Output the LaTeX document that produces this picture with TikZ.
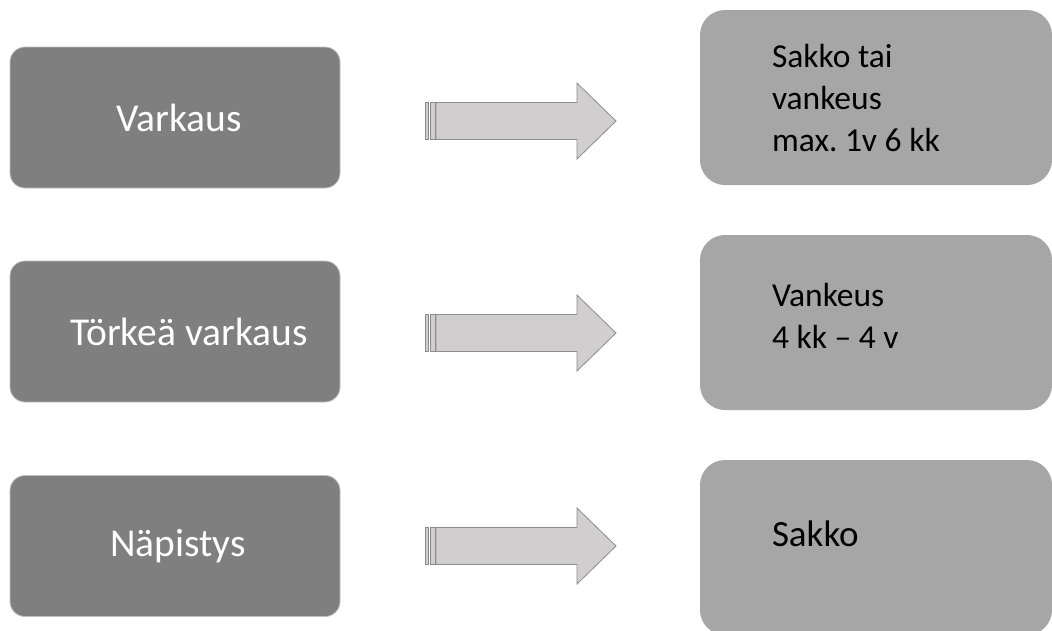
\documentclass[tikz,border=0pt]{standalone}
\usepackage{fontspec}
\setmainfont{Carlito}
\usetikzlibrary{positioning}
\definecolor{crimegray}{HTML}{7F7F7F}
\definecolor{crimeedge}{HTML}{BFBFBF}
\definecolor{penaltygray}{HTML}{A6A6A6}
\definecolor{arrowfill}{HTML}{D0CECE}
\definecolor{arrowedge}{HTML}{8C8C8C}
\frenchspacing
\tikzset{
    crime-box/.style = {draw=crimeedge, fill=crimegray, line width=0.8pt, rectangle, rounded corners=15pt, minimum width=330pt, minimum height=141pt, text=white, font=\fontsize{39.5}{46}\selectfont},
    penalty-box/.style = {fill=penaltygray, rectangle, rounded corners=25pt, minimum width=352pt, minimum height=175pt},
    penalty-text/.style = {align=left, inner sep=0pt, font=\fontsize{33.5}{42}\selectfont},
    block-arrow/.style = {draw=arrowedge, fill=arrowfill, line width=0.8pt, line join=miter},
}

\begin{document}
\begin{tikzpicture}[x=1pt, y=-1pt]
\useasboundingbox (0,0) rectangle (1052,630);
% left column
\node[crime-box] (varkaus) at (175,117.5) {\hspace{8pt}Varkaus};
\node[crime-box] (torkea) at (175,331.5) {\hspace{28pt}Törkeä varkaus};
\node[crime-box] (napistys) at (175,546) {\hspace{6pt}Näpistys};
% right column
\node[penalty-box] (sakkotai) at (876,97.5) {};
\node[penalty-box] (vankeus) at (876,322.5) {};
\node[penalty-box] (sakko) at (876,547.5) {};
\node[penalty-text, right=72pt of sakkotai.west, anchor=west] (sakkotai-text) {Sakko tai\\vankeus\\max. 1v 6 kk};
\node[penalty-text, right=72pt of vankeus.west, anchor=west, yshift=7pt] (vankeus-text) {Vankeus\\4 kk -- 4 v};
\node[penalty-text, right=72pt of sakko.west, anchor=west, yshift=14pt, font=\fontsize{37}{44}\selectfont] (sakko-text) {Sakko};
% striped arrows
\foreach \y in {121,333,546}{
    \begin{scope}[shift={(425,\y)}]
        \draw[block-arrow] (0,-18.5) rectangle (3.3,18.5);
        \draw[block-arrow] (5,-18.5) rectangle (10,18.5);
        \draw[block-arrow] (11,-18.5) -- (152,-18.5) -- (152,-38) -- (191,0) -- (152,38) -- (152,18.5) -- (11,18.5) -- cycle;
    \end{scope}
}
\end{tikzpicture}
\end{document}
